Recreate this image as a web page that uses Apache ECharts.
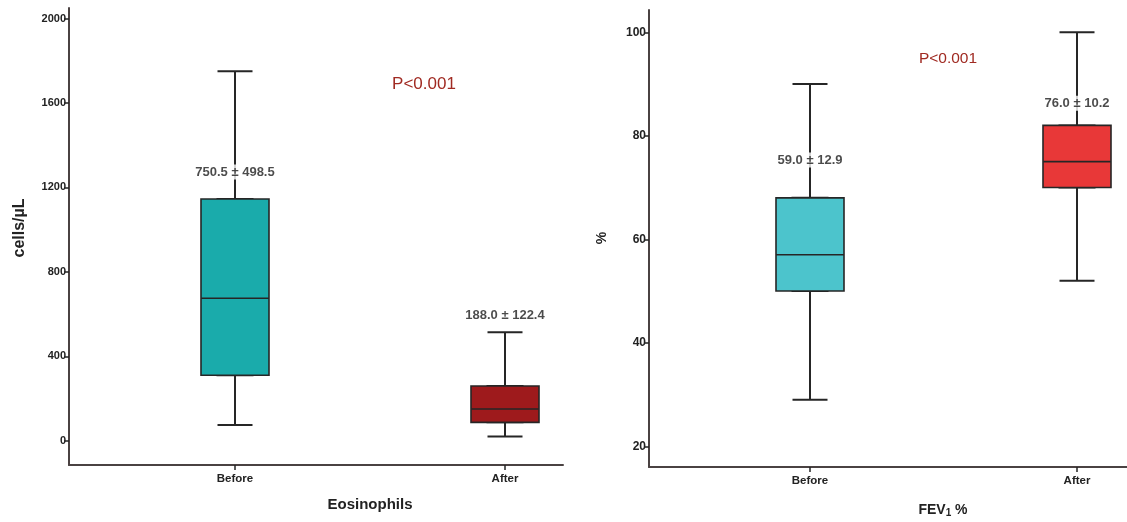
<!DOCTYPE html>
<html>
<head>
<meta charset="utf-8">
<script src="https://cdn.jsdelivr.net/npm/echarts@6/dist/echarts.min.js"></script>
<style>
html,body{margin:0;padding:0;background:#fff;}
#c{width:1127px;height:522px;}
</style>
</head>
<body>
<div id="c"></div>
<script>
// ---- data ----
var categories = ['Before', 'After'];
var eosMin = [75, 20];
var eosQ1 = [310, 87];
var eosMedian = [675, 150];
var eosQ3 = [1145, 259];
var eosMax = [1750, 514];
var eosNotes = ['750.5 ± 498.5', '188.0 ± 122.4'];
var eosNoteAt = [1273, 592];
var eosTicks = [0, 400, 800, 1200, 1600, 2000];

var fevMin = [29, 52];
var fevQ1 = [50, 70];
var fevMedian = [57, 75];
var fevQ3 = [68, 82];
var fevMax = [90, 100];
var fevNotes = ['59.0 ± 12.9', '76.0 ± 10.2'];
var fevNoteAt = [75.3, 86.3];
var fevTicks = [20, 40, 60, 80, 100];

var pText = 'P<0.001';

// ---- styles ----
var FONT = 'Liberation Sans, Arial, sans-serif';
var AX = '#4a4242';
var INK = '#262626';
var eosColors = ['#1aabab', '#9e1a1c'];
var fevColors = ['#4cc4cc', '#e83838'];

function frameX(gi) {
  return {type: 'value', gridIndex: gi, min: 0, max: 1,
    axisLine: {show: true, onZero: false, lineStyle: {color: AX, width: 2}},
    axisTick: {show: false}, axisLabel: {show: false}, splitLine: {show: false}};
}
function frameY(gi, mn, mx, ticks, fs) {
  return {type: 'value', gridIndex: gi, min: mn, max: mx,
    axisLine: {show: true, onZero: false, lineStyle: {color: AX, width: 2}},
    axisTick: {show: true, length: 5, customValues: ticks, lineStyle: {color: INK, width: 1.5}},
    axisLabel: {show: true, customValues: ticks, margin: 3, fontFamily: FONT, fontWeight: 'bold', fontSize: fs, color: '#222',
      formatter: function (v) { return String(v); }},
    splitLine: {show: false}};
}
function catX(gi, visible) {
  return {type: 'category', gridIndex: gi, data: categories, show: visible, position: 'bottom', boundaryGap: false,
    axisLine: {show: false, onZero: false},
    axisTick: {show: visible, length: 5, lineStyle: {color: INK, width: 1.5}},
    axisLabel: {show: visible, margin: 8, fontFamily: FONT, fontWeight: 'bold', fontSize: 11.5, color: '#222'},
    splitLine: {show: false}};
}
function hiddenY(gi, mn, mx) {
  return {type: 'value', gridIndex: gi, min: mn, max: mx, show: false, splitLine: {show: false}};
}

function whiskerSeries(xi, yi, mins, q1, med, q3, maxs) {
  return {type: 'boxplot', xAxisIndex: xi, yAxisIndex: yi, z: 2, silent: true,
    boxWidth: [35, 35],
    itemStyle: {color: '#fff', borderColor: INK, borderWidth: 2},
    data: categories.map(function (c, i) { return [mins[i], q1[i], med[i], q3[i], maxs[i]]; })};
}
function boxSeries(xi, yi, q1, med, q3, colors) {
  return {type: 'boxplot', xAxisIndex: xi, yAxisIndex: yi, z: 3, silent: true,
    boxWidth: [68, 68],
    itemStyle: {borderColor: INK, borderWidth: 1.6},
    data: categories.map(function (c, i) {
      return {value: [q1[i], q1[i], med[i], q3[i], q3[i]], itemStyle: {color: colors[i], borderColor: INK}};
    })};
}
function noteSeries(xi, yi, at, notes) {
  return {type: 'scatter', xAxisIndex: xi, yAxisIndex: yi, z: 5, silent: true,
    symbolSize: 0, clip: false,
    data: categories.map(function (c, i) { return [c, at[i]]; }),
    label: {show: true, position: 'inside', backgroundColor: '#fff', padding: [1, 2],
      fontFamily: FONT, fontWeight: 'bold', fontSize: 13, color: '#1e1e1e',
      formatter: function (p) { return notes[p.dataIndex]; }}};
}

var option = {
  backgroundColor: '#fff',
  animation: false,
  grid: [
    {left: 69, top: 8, width: 494, height: 457},
    {left: 235, top: 8, width: 270, height: 457},
    {left: 649, top: 10, width: 478, height: 457},
    {left: 810, top: 10, width: 267, height: 457}
  ],
  xAxis: [
    frameX(0), catX(1, true), catX(1, false),
    frameX(2), catX(3, true), catX(3, false)
  ],
  yAxis: [
    frameY(0, -115, 2050, eosTicks, 11), hiddenY(1, -115, 2050),
    frameY(2, 16, 104.3, fevTicks, 12), hiddenY(3, 16, 104.3)
  ],
  series: [
    whiskerSeries(1, 1, eosMin, eosQ1, eosMedian, eosQ3, eosMax),
    boxSeries(2, 1, eosQ1, eosMedian, eosQ3, eosColors),
    noteSeries(1, 1, eosNoteAt, eosNotes),
    whiskerSeries(4, 3, fevMin, fevQ1, fevMedian, fevQ3, fevMax),
    boxSeries(5, 3, fevQ1, fevMedian, fevQ3, fevColors),
    noteSeries(4, 3, fevNoteAt, fevNotes)
  ],
  graphic: [
    {type: 'text', x: 424, y: 84, style: {text: pText, fill: '#a02a22', font: '17px ' + FONT, align: 'center', verticalAlign: 'middle'}},
    {type: 'text', x: 948, y: 59, style: {text: pText, fill: '#a02a22', font: '15.5px ' + FONT, align: 'center', verticalAlign: 'middle'}},
    {type: 'text', x: 370, y: 505, style: {text: 'Eosinophils', fill: '#222', font: 'bold 15px ' + FONT, align: 'center', verticalAlign: 'middle'}},
    {type: 'text', x: 943, y: 510, style: {text: 'FEV{s|1} %', fill: '#222', font: 'bold 14px ' + FONT, align: 'center', verticalAlign: 'middle',
      rich: {s: {fontFamily: FONT, fontWeight: 'bold', fontSize: 10, verticalAlign: 'bottom', padding: [6, 0, 0, 0]}}}},
    {type: 'text', x: 20, y: 228, rotation: Math.PI / 2, style: {text: 'cells/µL', fill: '#222', font: 'bold 16px ' + FONT, align: 'center', verticalAlign: 'middle'}},
    {type: 'text', x: 602, y: 238, rotation: Math.PI / 2, style: {text: '%', fill: '#222', font: 'bold 14px ' + FONT, align: 'center', verticalAlign: 'middle'}}
  ]
};

var chart = echarts.init(document.getElementById('c'), null, {renderer: 'canvas'});
chart.setOption(option);
</script>
</body>
</html>
